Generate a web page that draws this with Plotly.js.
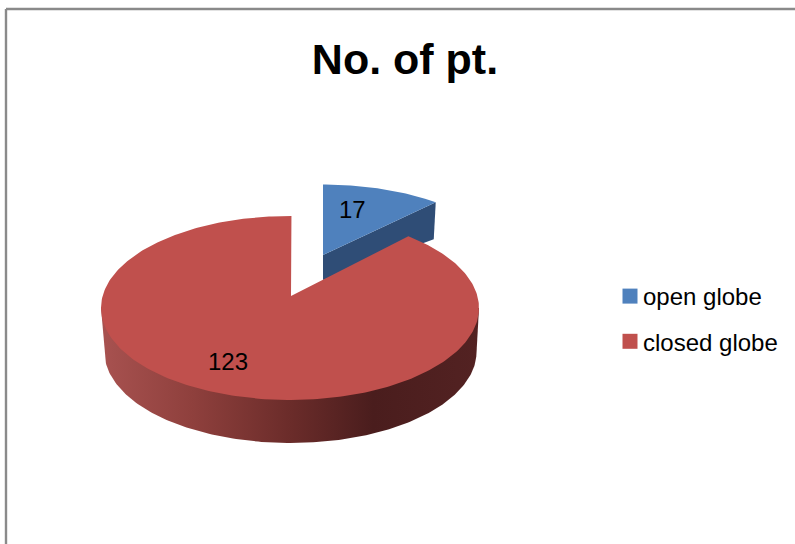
<!DOCTYPE html>
<html>
<head>
<meta charset="utf-8">
<script src="https://cdn.plot.ly/plotly-3.0.1.min.js"></script>
<style>html,body{margin:0;padding:0;background:#fff;overflow:hidden}</style>
</head>
<body>
<div id="chart" style="width:795px;height:544px"></div>
<script>
// ---- data ----
var categories = ['open globe', 'closed globe'];
var values = [17, 123];
var chartTitle = 'No. of pt.';

// ---- style ----
var faceColors = ['#4f81bd', '#c0504d'];
var cutColor = '#2f4d76';
var wallStops = [[0, '#a85250'], [0.24, '#8f403d'], [0.5, '#6b2c2a'], [0.72, '#4a1d1d'], [1, '#532222']];
var FONT = '"Liberation Sans", Arial, sans-serif';

// ---- projection of the tilted disc (pixel axes) ----
var TILT = 0.13;
var redDisc = {cx: 290, cy: 308, rx: 189, ry: 92};
var blueDisc = {cx: 323, cy: 265.5, rx: 180, ry: 81};
var redBase = {cx: 290.5, cy: 352, rx: 186, ry: 91};
var blueDepth = 24;

function project(d, deg, r) {
  var t = deg * Math.PI / 180, s = Math.sin(t) * r, c = Math.cos(t) * r;
  var den = 1 + TILT * c;
  return [d.cx + d.rx * s * Math.sqrt(1 - TILT * TILT) / den,
          d.cy - d.ry * (c + TILT) / den];
}
function wedge(d, a0, a1, apexShift) {
  var xs = [], ys = [], p = project(d, 0, 0);
  xs.push(p[0] + apexShift); ys.push(p[1]);
  for (var a = a0; a < a1; a += 1) { p = project(d, a, 1); xs.push(p[0]); ys.push(p[1]); }
  p = project(d, a1, 1); xs.push(p[0]); ys.push(p[1]);
  xs.push(xs[0]); ys.push(ys[0]);
  return {x: xs, y: ys};
}
var total = values.reduce(function (a, b) { return a + b; }, 0);
var splitAngle = values[0] / total * 360;

var blueFace = wedge(blueDisc, 0, splitAngle, 0);
var redFace = wedge(redDisc, splitAngle, 360.5, 1);

// visible cut face of the pulled-out slice
var bApex = project(blueDisc, 0, 0), bEdge = project(blueDisc, splitAngle, 1);
var blueCut = {
  x: [bApex[0], bEdge[0], bEdge[0] - 2, bApex[0], bApex[0]],
  y: [bApex[1], bEdge[1], bEdge[1] + blueDepth + 13, bApex[1] + blueDepth + 1, bApex[1]]
};

// outer wall of the large slice
var wall = {x: [redDisc.cx - redDisc.rx], y: [redDisc.cy]};
for (var a = 180; a <= 360; a += 1) {
  var t = a * Math.PI / 180;
  wall.x.push(redBase.cx + redBase.rx * Math.cos(t));
  wall.y.push(redBase.cy - redBase.ry * Math.sin(t));
}
wall.x.push(redDisc.cx + redDisc.rx, redDisc.cx - redDisc.rx);
wall.y.push(redDisc.cy, redDisc.cy);

function solid(shape, color) {
  return {type: 'scatter', mode: 'lines', x: shape.x, y: shape.y, fill: 'toself',
          fillcolor: color, line: {width: 0, color: color}, showlegend: false, hoverinfo: 'skip'};
}
// legend keys sit underneath their own slice faces
function key(i, disc, angle) {
  var p = project(disc, angle, 0.55);
  return {type: 'scatter', mode: 'markers', name: categories[i], legendgroup: categories[i],
          x: [p[0]], y: [p[1]],
          marker: {symbol: 'square', size: 15, color: faceColors[i]}, hoverinfo: 'skip'};
}

var traces = [
  key(0, blueDisc, splitAngle / 2),
  key(1, redDisc, 180),
  solid(blueCut, cutColor),
  solid(blueFace, faceColors[0]),
  {type: 'scatter', mode: 'lines', x: wall.x, y: wall.y, fill: 'toself',
   fillgradient: {type: 'horizontal', colorscale: wallStops},
   line: {width: 0}, showlegend: false, hoverinfo: 'skip'},
  solid(redFace, faceColors[1])
];

var hidden = {visible: false, fixedrange: true};
var layout = {
  width: 795, height: 544,
  margin: {l: 0, r: 0, t: 0, b: 0},
  paper_bgcolor: '#fff', plot_bgcolor: '#fff',
  font: {family: FONT, color: '#000'},
  title: {text: '<b>' + chartTitle + '</b>', x: 405 / 795, xanchor: 'center', y: 1 - 59 / 544, yanchor: 'middle',
          font: {family: FONT, size: 43, color: '#000'}},
  xaxis: Object.assign({range: [0, 795]}, hidden),
  yaxis: Object.assign({range: [544, 0]}, hidden),
  showlegend: true,
  legend: {x: 603 / 795, xanchor: 'left', y: 1 - 274 / 544, yanchor: 'top', bgcolor: 'rgba(0,0,0,0)',
           font: {family: FONT, size: 24, color: '#000'}, tracegroupgap: 11, itemclick: false, itemdoubleclick: false},
  annotations: [
    {x: 352, y: 209, text: String(values[0])},
    {x: 228, y: 361, text: String(values[1])}
  ].map(function (a) {
    return Object.assign(a, {xref: 'x', yref: 'y', showarrow: false, font: {family: FONT, size: 24, color: '#000'}});
  }),
  shapes: [
    {type: 'line', xref: 'paper', yref: 'paper', x0: 6 / 795, x1: 1, y0: 1 - 9 / 544, y1: 1 - 9 / 544, line: {color: '#8a8a8a', width: 2.4}},
    {type: 'line', xref: 'paper', yref: 'paper', x0: 6 / 795, x1: 6 / 795, y0: 1 - 9 / 544, y1: 0, line: {color: '#8a8a8a', width: 2.4}}
  ]
};

Plotly.newPlot('chart', traces, layout, {displayModeBar: false, staticPlot: true}).then(function () {
  document.querySelectorAll('.legend .legendsymbols').forEach(function (g) {
    g.setAttribute('transform', 'translate(7,0)');
  });
});
</script>
</body>
</html>
